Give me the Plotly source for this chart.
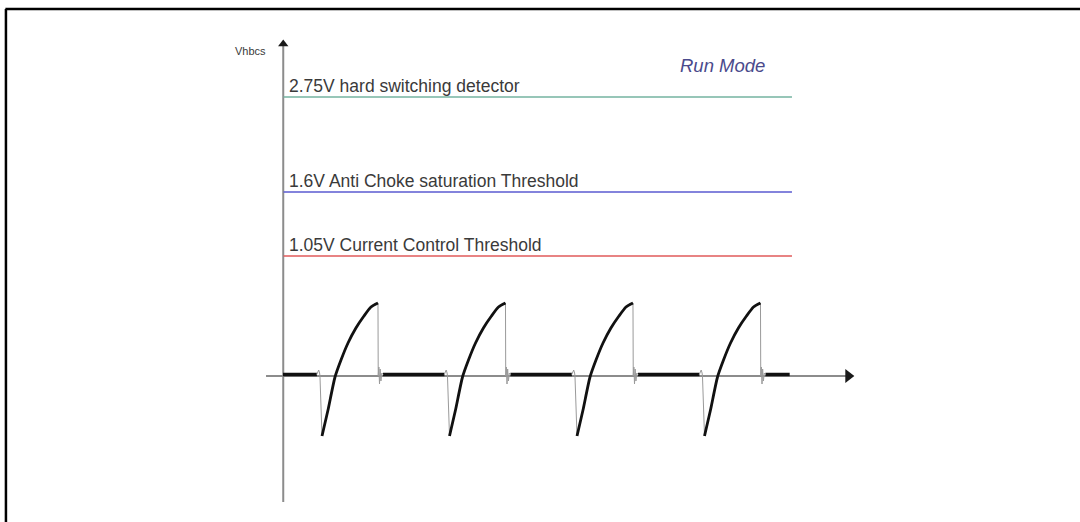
import plotly.graph_objects as go

# time in us (one switching period = 10 us), level in display units
threshold_labels = ["2.75V hard switching detector",
                    "1.6V Anti Choke saturation Threshold",
                    "1.05V Current Control Threshold"]
threshold_levels = [2.79, 1.84, 1.20]
threshold_colors = ["#74b3a0", "#5a5ad0", "#e05a5a"]
threshold_end = 39.88

# start of each pulse (falling edge)
drop_times = [2.86, 12.86, 22.86, 32.86]
# one pulse, offsets from the falling edge
pulse_dt = [0.16, 0.63, 1.18, 1.65, 2.20, 2.82, 3.45, 4.0, 4.55]
pulse_v = [-0.60, -0.34, -0.01, 0.16, 0.33, 0.48, 0.60, 0.69, 0.73]
ring_dt = [4.57, 4.62, 4.67, 4.72, 4.78, 4.85, 4.95]
ring_v = [0.0, 0.09, -0.08, 0.07, -0.05, 0.03, 0.015]
pre_dt = [-0.25, -0.1, -0.03, 0.0]
pre_v = [0.015, 0.06, 0.03, 0.0]

# flat (off) sections of the trace
flat_start = [-0.04, 7.8, 17.8, 27.8, 37.8]
flat_end = [2.62, 12.62, 22.62, 32.62, 39.7]
flat_level = 0.015

x_axis_span = [-1.37, 44.3]
y_axis_span = [-1.26, 3.3]

fig = go.Figure()

# axes
fig.add_trace(go.Scatter(x=x_axis_span, y=[0, 0], mode="lines", line=dict(color="#8c8c8c", width=2)))
fig.add_trace(go.Scatter(x=[-0.02, -0.02], y=y_axis_span, mode="lines", line=dict(color="#8c8c8c", width=2)))
fig.add_trace(go.Scatter(x=[44.3], y=[0], mode="markers",
                         marker=dict(symbol="triangle-right", size=12, color="#1a1a1a")))
fig.add_trace(go.Scatter(x=[-0.02], y=[3.32], mode="markers",
                         marker=dict(symbol="triangle-up", size=9, color="#1a1a1a")))

# thresholds
for lvl, col, lab in zip(threshold_levels, threshold_colors, threshold_labels):
    fig.add_trace(go.Scatter(x=[0, threshold_end], y=[lvl, lvl], mode="lines", line=dict(color=col, width=1.6)))
    fig.add_annotation(x=0.25, y=lvl + 0.11, text=lab, showarrow=False, xanchor="left", yanchor="middle",
                       font=dict(family="Liberation Sans, Arial", size=17.5, color="#3a3a3a"))

# flat sections
fx, fy = [], []
for s, e in zip(flat_start, flat_end):
    fx += [s, e, None]
    fy += [flat_level, flat_level, None]
fig.add_trace(go.Scatter(x=fx, y=fy, mode="lines", line=dict(color="#111111", width=3.5)))

# thin edges and ringing
tx, ty = [], []
for td in drop_times:
    tx += [td + d for d in pre_dt] + [td + pulse_dt[0], None]
    ty += pre_v + [pulse_v[0], None]
    tx += [td + pulse_dt[-1]] + [td + d for d in ring_dt] + [None]
    ty += [pulse_v[-1]] + ring_v + [None]
fig.add_trace(go.Scatter(x=tx, y=ty, mode="lines", line=dict(color="#9a9a9a", width=1)))

# pulse curves
px, py = [], []
for td in drop_times:
    px += [td + d for d in pulse_dt] + [None]
    py += pulse_v + [None]
fig.add_trace(go.Scatter(x=px, y=py, mode="lines", line=dict(color="#111111", width=2.8, shape="spline", smoothing=0.6)))

fig.add_annotation(x=34.45, y=3.11, text="<i>Run Mode</i>", showarrow=False, xanchor="center", yanchor="middle",
                   font=dict(family="Liberation Sans, Arial", size=18.5, color="#4a4a8c"))
fig.add_annotation(x=-1.2, y=3.25, text="Vhbcs", showarrow=False, xanchor="right", yanchor="middle",
                   font=dict(family="Liberation Sans, Arial", size=11, color="#3a3a3a"))

# frame lines of the figure box
fig.add_shape(type="line", xref="paper", yref="paper", x0=0.005, x1=1, y0=1 - 9 / 522, y1=1 - 9 / 522,
              line=dict(color="black", width=2.5))
fig.add_shape(type="line", xref="paper", yref="paper", x0=0.0055, x1=0.0055, y0=0, y1=1 - 9 / 522,
              line=dict(color="black", width=2.5))

fig.update_layout(width=1080, height=522, margin=dict(l=0, r=0, t=0, b=0), showlegend=False,
                  plot_bgcolor="white", paper_bgcolor="white")
fig.update_xaxes(visible=False, range=[-22.235, 62.47])
fig.update_yaxes(visible=False, range=[-1.46, 3.76])

fig.write_html("out.html", config={"displayModeBar": False},
               post_script="document.body.style.margin='0px';")
